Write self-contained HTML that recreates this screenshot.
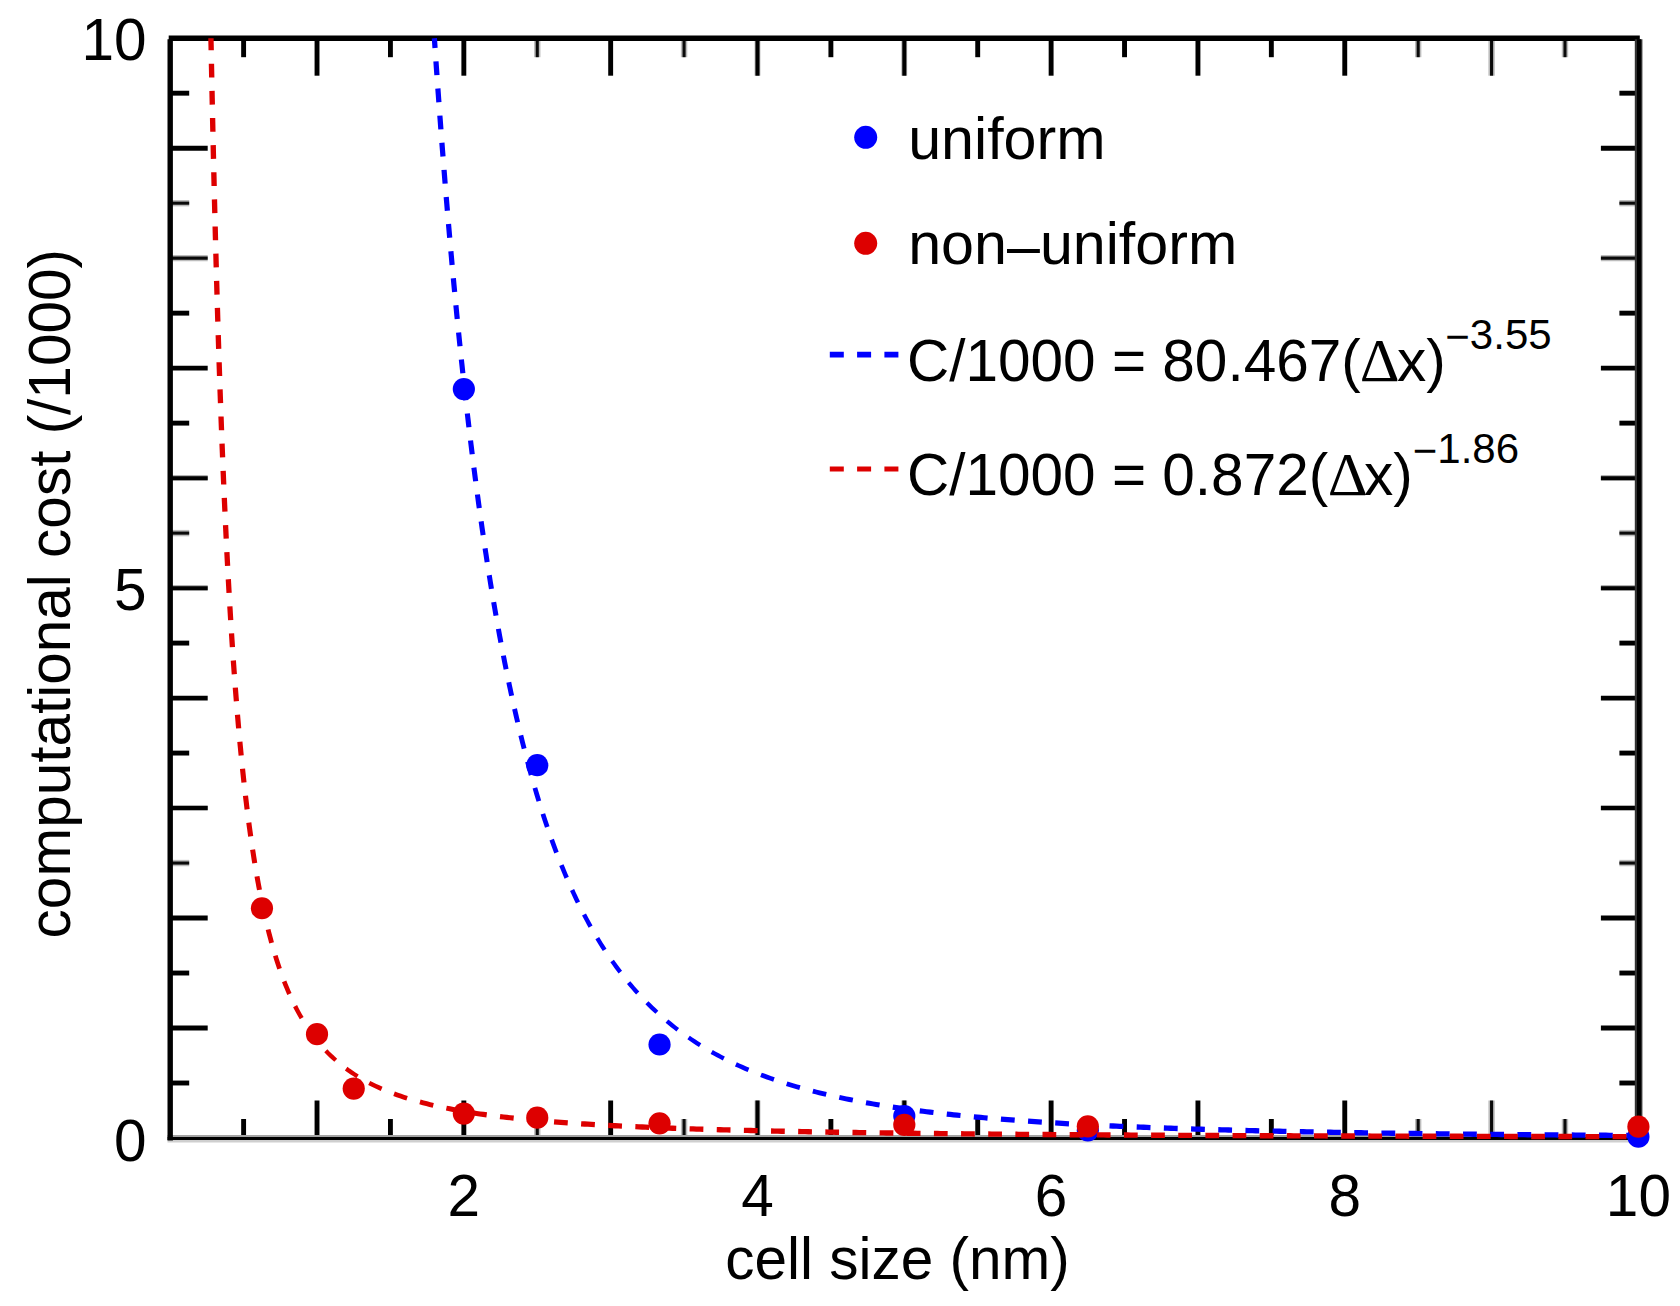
<!DOCTYPE html>
<html lang="en"><head><meta charset="utf-8"><title>computational cost vs cell size</title>
<style>
html,body{margin:0;padding:0;background:#fff;}
body{width:1680px;height:1306px;overflow:hidden;}
svg{display:block;}
text{font-family:"Liberation Sans",sans-serif;fill:#000;}
.sym{font-family:"Liberation Serif","DejaVu Serif",serif;}
</style></head><body>
<svg width="1680" height="1306" viewBox="0 0 1680 1306">
<rect x="0" y="0" width="1680" height="1306" fill="#ffffff"/>
<g stroke-linecap="butt" fill="none">
<line x1="243.61" y1="1138.00" x2="243.61" y2="1119.00" stroke="#000" stroke-width="4.9"/>
<line x1="243.61" y1="38.20" x2="243.61" y2="57.20" stroke="#000" stroke-width="4.9"/>
<line x1="317.02" y1="1138.00" x2="317.02" y2="1100.50" stroke="#000" stroke-width="4.9"/>
<line x1="317.02" y1="38.20" x2="317.02" y2="75.70" stroke="#000" stroke-width="4.9"/>
<line x1="390.43" y1="1138.00" x2="390.43" y2="1119.00" stroke="#000" stroke-width="4.9"/>
<line x1="390.43" y1="38.20" x2="390.43" y2="57.20" stroke="#000" stroke-width="4.9"/>
<line x1="463.84" y1="1138.00" x2="463.84" y2="1100.50" stroke="#000" stroke-width="4.9"/>
<line x1="463.84" y1="38.20" x2="463.84" y2="75.70" stroke="#000" stroke-width="4.9"/>
<line x1="537.25" y1="1138.00" x2="537.25" y2="1119.00" stroke="#bdbdbd" stroke-width="6.4"/>
<line x1="537.25" y1="1138.00" x2="537.25" y2="1119.00" stroke="#0a0a0a" stroke-width="3.1"/>
<line x1="537.25" y1="38.20" x2="537.25" y2="57.20" stroke="#bdbdbd" stroke-width="6.4"/>
<line x1="537.25" y1="38.20" x2="537.25" y2="57.20" stroke="#0a0a0a" stroke-width="3.1"/>
<line x1="610.66" y1="1138.00" x2="610.66" y2="1100.50" stroke="#000" stroke-width="4.9"/>
<line x1="610.66" y1="38.20" x2="610.66" y2="75.70" stroke="#000" stroke-width="4.9"/>
<line x1="684.07" y1="1138.00" x2="684.07" y2="1119.00" stroke="#bdbdbd" stroke-width="6.4"/>
<line x1="684.07" y1="1138.00" x2="684.07" y2="1119.00" stroke="#0a0a0a" stroke-width="3.1"/>
<line x1="684.07" y1="38.20" x2="684.07" y2="57.20" stroke="#bdbdbd" stroke-width="6.4"/>
<line x1="684.07" y1="38.20" x2="684.07" y2="57.20" stroke="#0a0a0a" stroke-width="3.1"/>
<line x1="757.48" y1="1138.00" x2="757.48" y2="1100.50" stroke="#9a9a9a" stroke-width="5.6"/>
<line x1="757.48" y1="1138.00" x2="757.48" y2="1100.50" stroke="#000" stroke-width="3.9"/>
<line x1="757.48" y1="38.20" x2="757.48" y2="75.70" stroke="#9a9a9a" stroke-width="5.6"/>
<line x1="757.48" y1="38.20" x2="757.48" y2="75.70" stroke="#000" stroke-width="3.9"/>
<line x1="830.89" y1="1138.00" x2="830.89" y2="1119.00" stroke="#000" stroke-width="4.9"/>
<line x1="830.89" y1="38.20" x2="830.89" y2="57.20" stroke="#000" stroke-width="4.9"/>
<line x1="904.30" y1="1138.00" x2="904.30" y2="1100.50" stroke="#9a9a9a" stroke-width="5.6"/>
<line x1="904.30" y1="1138.00" x2="904.30" y2="1100.50" stroke="#000" stroke-width="3.9"/>
<line x1="904.30" y1="38.20" x2="904.30" y2="75.70" stroke="#9a9a9a" stroke-width="5.6"/>
<line x1="904.30" y1="38.20" x2="904.30" y2="75.70" stroke="#000" stroke-width="3.9"/>
<line x1="977.71" y1="1138.00" x2="977.71" y2="1119.00" stroke="#000" stroke-width="4.9"/>
<line x1="977.71" y1="38.20" x2="977.71" y2="57.20" stroke="#000" stroke-width="4.9"/>
<line x1="1051.12" y1="1138.00" x2="1051.12" y2="1100.50" stroke="#000" stroke-width="4.9"/>
<line x1="1051.12" y1="38.20" x2="1051.12" y2="75.70" stroke="#000" stroke-width="4.9"/>
<line x1="1124.53" y1="1138.00" x2="1124.53" y2="1119.00" stroke="#000" stroke-width="4.9"/>
<line x1="1124.53" y1="38.20" x2="1124.53" y2="57.20" stroke="#000" stroke-width="4.9"/>
<line x1="1197.94" y1="1138.00" x2="1197.94" y2="1100.50" stroke="#000" stroke-width="4.9"/>
<line x1="1197.94" y1="38.20" x2="1197.94" y2="75.70" stroke="#000" stroke-width="4.9"/>
<line x1="1271.35" y1="1138.00" x2="1271.35" y2="1119.00" stroke="#000" stroke-width="4.9"/>
<line x1="1271.35" y1="38.20" x2="1271.35" y2="57.20" stroke="#000" stroke-width="4.9"/>
<line x1="1344.76" y1="1138.00" x2="1344.76" y2="1100.50" stroke="#000" stroke-width="4.9"/>
<line x1="1344.76" y1="38.20" x2="1344.76" y2="75.70" stroke="#000" stroke-width="4.9"/>
<line x1="1418.17" y1="1138.00" x2="1418.17" y2="1119.00" stroke="#bdbdbd" stroke-width="6.4"/>
<line x1="1418.17" y1="1138.00" x2="1418.17" y2="1119.00" stroke="#0a0a0a" stroke-width="3.1"/>
<line x1="1418.17" y1="38.20" x2="1418.17" y2="57.20" stroke="#bdbdbd" stroke-width="6.4"/>
<line x1="1418.17" y1="38.20" x2="1418.17" y2="57.20" stroke="#0a0a0a" stroke-width="3.1"/>
<line x1="1491.58" y1="1138.00" x2="1491.58" y2="1100.50" stroke="#bdbdbd" stroke-width="6.4"/>
<line x1="1491.58" y1="1138.00" x2="1491.58" y2="1100.50" stroke="#0a0a0a" stroke-width="3.1"/>
<line x1="1491.58" y1="38.20" x2="1491.58" y2="75.70" stroke="#bdbdbd" stroke-width="6.4"/>
<line x1="1491.58" y1="38.20" x2="1491.58" y2="75.70" stroke="#0a0a0a" stroke-width="3.1"/>
<line x1="1564.99" y1="1138.00" x2="1564.99" y2="1119.00" stroke="#bdbdbd" stroke-width="6.4"/>
<line x1="1564.99" y1="1138.00" x2="1564.99" y2="1119.00" stroke="#0a0a0a" stroke-width="3.1"/>
<line x1="1564.99" y1="38.20" x2="1564.99" y2="57.20" stroke="#bdbdbd" stroke-width="6.4"/>
<line x1="1564.99" y1="38.20" x2="1564.99" y2="57.20" stroke="#0a0a0a" stroke-width="3.1"/>
<line x1="170.20" y1="1083.01" x2="189.20" y2="1083.01" stroke="#000" stroke-width="4.9"/>
<line x1="1638.40" y1="1083.01" x2="1619.40" y2="1083.01" stroke="#000" stroke-width="4.9"/>
<line x1="170.20" y1="1028.02" x2="207.70" y2="1028.02" stroke="#000" stroke-width="4.9"/>
<line x1="1638.40" y1="1028.02" x2="1600.90" y2="1028.02" stroke="#000" stroke-width="4.9"/>
<line x1="170.20" y1="973.03" x2="189.20" y2="973.03" stroke="#000" stroke-width="4.9"/>
<line x1="1638.40" y1="973.03" x2="1619.40" y2="973.03" stroke="#000" stroke-width="4.9"/>
<line x1="170.20" y1="918.04" x2="207.70" y2="918.04" stroke="#000" stroke-width="4.9"/>
<line x1="1638.40" y1="918.04" x2="1600.90" y2="918.04" stroke="#000" stroke-width="4.9"/>
<line x1="170.20" y1="863.05" x2="189.20" y2="863.05" stroke="#bdbdbd" stroke-width="6.4"/>
<line x1="170.20" y1="863.05" x2="189.20" y2="863.05" stroke="#0a0a0a" stroke-width="3.1"/>
<line x1="1638.40" y1="863.05" x2="1619.40" y2="863.05" stroke="#bdbdbd" stroke-width="6.4"/>
<line x1="1638.40" y1="863.05" x2="1619.40" y2="863.05" stroke="#0a0a0a" stroke-width="3.1"/>
<line x1="170.20" y1="808.06" x2="207.70" y2="808.06" stroke="#9a9a9a" stroke-width="5.6"/>
<line x1="170.20" y1="808.06" x2="207.70" y2="808.06" stroke="#000" stroke-width="3.9"/>
<line x1="1638.40" y1="808.06" x2="1600.90" y2="808.06" stroke="#9a9a9a" stroke-width="5.6"/>
<line x1="1638.40" y1="808.06" x2="1600.90" y2="808.06" stroke="#000" stroke-width="3.9"/>
<line x1="170.20" y1="753.07" x2="189.20" y2="753.07" stroke="#000" stroke-width="4.9"/>
<line x1="1638.40" y1="753.07" x2="1619.40" y2="753.07" stroke="#000" stroke-width="4.9"/>
<line x1="170.20" y1="698.08" x2="207.70" y2="698.08" stroke="#000" stroke-width="4.9"/>
<line x1="1638.40" y1="698.08" x2="1600.90" y2="698.08" stroke="#000" stroke-width="4.9"/>
<line x1="170.20" y1="643.09" x2="189.20" y2="643.09" stroke="#000" stroke-width="4.9"/>
<line x1="1638.40" y1="643.09" x2="1619.40" y2="643.09" stroke="#000" stroke-width="4.9"/>
<line x1="170.20" y1="588.10" x2="207.70" y2="588.10" stroke="#9a9a9a" stroke-width="5.6"/>
<line x1="170.20" y1="588.10" x2="207.70" y2="588.10" stroke="#000" stroke-width="3.9"/>
<line x1="1638.40" y1="588.10" x2="1600.90" y2="588.10" stroke="#9a9a9a" stroke-width="5.6"/>
<line x1="1638.40" y1="588.10" x2="1600.90" y2="588.10" stroke="#000" stroke-width="3.9"/>
<line x1="170.20" y1="533.11" x2="189.20" y2="533.11" stroke="#bdbdbd" stroke-width="6.4"/>
<line x1="170.20" y1="533.11" x2="189.20" y2="533.11" stroke="#0a0a0a" stroke-width="3.1"/>
<line x1="1638.40" y1="533.11" x2="1619.40" y2="533.11" stroke="#bdbdbd" stroke-width="6.4"/>
<line x1="1638.40" y1="533.11" x2="1619.40" y2="533.11" stroke="#0a0a0a" stroke-width="3.1"/>
<line x1="170.20" y1="478.12" x2="207.70" y2="478.12" stroke="#9a9a9a" stroke-width="5.6"/>
<line x1="170.20" y1="478.12" x2="207.70" y2="478.12" stroke="#000" stroke-width="3.9"/>
<line x1="1638.40" y1="478.12" x2="1600.90" y2="478.12" stroke="#9a9a9a" stroke-width="5.6"/>
<line x1="1638.40" y1="478.12" x2="1600.90" y2="478.12" stroke="#000" stroke-width="3.9"/>
<line x1="170.20" y1="423.13" x2="189.20" y2="423.13" stroke="#000" stroke-width="4.9"/>
<line x1="1638.40" y1="423.13" x2="1619.40" y2="423.13" stroke="#000" stroke-width="4.9"/>
<line x1="170.20" y1="368.14" x2="207.70" y2="368.14" stroke="#000" stroke-width="4.9"/>
<line x1="1638.40" y1="368.14" x2="1600.90" y2="368.14" stroke="#000" stroke-width="4.9"/>
<line x1="170.20" y1="313.15" x2="189.20" y2="313.15" stroke="#000" stroke-width="4.9"/>
<line x1="1638.40" y1="313.15" x2="1619.40" y2="313.15" stroke="#000" stroke-width="4.9"/>
<line x1="170.20" y1="258.16" x2="207.70" y2="258.16" stroke="#bdbdbd" stroke-width="6.4"/>
<line x1="170.20" y1="258.16" x2="207.70" y2="258.16" stroke="#0a0a0a" stroke-width="3.1"/>
<line x1="1638.40" y1="258.16" x2="1600.90" y2="258.16" stroke="#bdbdbd" stroke-width="6.4"/>
<line x1="1638.40" y1="258.16" x2="1600.90" y2="258.16" stroke="#0a0a0a" stroke-width="3.1"/>
<line x1="170.20" y1="203.17" x2="189.20" y2="203.17" stroke="#bdbdbd" stroke-width="6.4"/>
<line x1="170.20" y1="203.17" x2="189.20" y2="203.17" stroke="#0a0a0a" stroke-width="3.1"/>
<line x1="1638.40" y1="203.17" x2="1619.40" y2="203.17" stroke="#bdbdbd" stroke-width="6.4"/>
<line x1="1638.40" y1="203.17" x2="1619.40" y2="203.17" stroke="#0a0a0a" stroke-width="3.1"/>
<line x1="170.20" y1="148.18" x2="207.70" y2="148.18" stroke="#000" stroke-width="4.9"/>
<line x1="1638.40" y1="148.18" x2="1600.90" y2="148.18" stroke="#000" stroke-width="4.9"/>
<line x1="170.20" y1="93.19" x2="189.20" y2="93.19" stroke="#000" stroke-width="4.9"/>
<line x1="1638.40" y1="93.19" x2="1619.40" y2="93.19" stroke="#000" stroke-width="4.9"/>
</g>
<g stroke="#000" fill="none" stroke-linecap="butt">
<line x1="167.50" y1="1136.30" x2="1641.40" y2="1136.30" stroke="#a4a4a4" stroke-width="2.4"/>
<line x1="167.50" y1="1141.10" x2="1641.40" y2="1141.10" stroke="#cfcfcf" stroke-width="2.8"/>
<line x1="167.50" y1="1138.50" x2="1641.40" y2="1138.50" stroke-width="2.8"/>
<line x1="170.20" y1="39.20" x2="170.20" y2="1140.40" stroke-width="5.4"/>
<line x1="168.70" y1="38.20" x2="1639.80" y2="38.20" stroke-width="5.6"/>
<line x1="1638.60" y1="39.20" x2="1638.60" y2="1140.40" stroke="#333" stroke-width="7.6"/>
<line x1="1639.00" y1="39.20" x2="1639.00" y2="1140.40" stroke-width="4"/>
</g>
<g fill="none" stroke="#0000ff" stroke-linecap="butt" stroke-linejoin="round">
<path d="M1638.40,1135.51 L1635.35,1135.49 L1632.30,1135.47 L1629.25,1135.45 L1626.20,1135.43" stroke-width="5.39"/>
<path d="M1612.80,1135.35 L1609.35,1135.32 L1605.90,1135.30 L1602.45,1135.28 L1599.00,1135.25" stroke-width="5.39"/>
<path d="M1585.60,1135.16 L1582.15,1135.13 L1578.70,1135.11 L1575.25,1135.08 L1571.80,1135.06" stroke-width="5.38"/>
<path d="M1558.40,1134.96 L1554.95,1134.93 L1551.50,1134.90 L1548.05,1134.88 L1544.60,1134.85" stroke-width="5.38"/>
<path d="M1531.20,1134.74 L1527.75,1134.71 L1524.30,1134.68 L1520.85,1134.65 L1517.40,1134.62" stroke-width="5.38"/>
<path d="M1504.00,1134.49 L1500.55,1134.46 L1497.10,1134.43 L1493.65,1134.39 L1490.20,1134.36" stroke-width="5.38"/>
<path d="M1476.81,1134.23 L1473.36,1134.19 L1469.91,1134.16 L1466.46,1134.12 L1463.01,1134.08" stroke-width="5.38"/>
<path d="M1449.61,1133.93 L1446.16,1133.90 L1442.71,1133.86 L1439.26,1133.82 L1435.81,1133.77" stroke-width="5.37"/>
<path d="M1422.41,1133.61 L1418.96,1133.57 L1415.51,1133.53 L1412.06,1133.48 L1408.61,1133.44" stroke-width="5.37"/>
<path d="M1395.21,1133.26 L1391.76,1133.21 L1388.31,1133.16 L1384.86,1133.11 L1381.41,1133.06" stroke-width="5.37"/>
<path d="M1368.01,1132.86 L1364.56,1132.81 L1361.11,1132.76 L1357.67,1132.70 L1354.22,1132.65" stroke-width="5.37"/>
<path d="M1340.82,1132.43 L1337.37,1132.37 L1333.92,1132.31 L1330.47,1132.25 L1327.02,1132.19" stroke-width="5.36"/>
<path d="M1313.62,1131.94 L1310.17,1131.88 L1306.72,1131.81 L1303.27,1131.74 L1299.82,1131.67" stroke-width="5.36"/>
<path d="M1286.43,1131.40 L1282.98,1131.33 L1279.53,1131.25 L1276.08,1131.18 L1272.63,1131.10" stroke-width="5.35"/>
<path d="M1259.23,1130.80 L1255.78,1130.72 L1252.34,1130.63 L1248.89,1130.55 L1245.44,1130.46" stroke-width="5.35"/>
<path d="M1232.04,1130.12 L1228.59,1130.03 L1225.14,1129.94 L1221.70,1129.84 L1218.25,1129.75" stroke-width="5.34"/>
<path d="M1204.85,1129.36 L1201.40,1129.26 L1197.96,1129.15 L1194.51,1129.05 L1191.06,1128.94" stroke-width="5.33"/>
<path d="M1177.67,1128.50 L1174.22,1128.39 L1170.77,1128.27 L1167.32,1128.15 L1163.87,1128.03" stroke-width="5.32"/>
<path d="M1150.48,1127.54 L1147.04,1127.40 L1143.59,1127.27 L1140.14,1127.13 L1136.69,1127.00" stroke-width="5.31"/>
<path d="M1123.31,1126.44 L1119.86,1126.29 L1116.41,1126.14 L1112.97,1125.98 L1109.52,1125.82" stroke-width="5.30"/>
<path d="M1096.13,1125.19 L1092.69,1125.02 L1089.24,1124.84 L1085.80,1124.67 L1082.35,1124.49" stroke-width="5.29"/>
<path d="M1068.97,1123.76 L1065.53,1123.56 L1062.08,1123.36 L1058.64,1123.16 L1055.20,1122.96" stroke-width="5.27"/>
<path d="M1041.82,1122.12 L1038.38,1121.90 L1034.94,1121.67 L1031.49,1121.43 L1028.05,1121.20" stroke-width="5.25"/>
<path d="M1014.69,1120.23 L1011.25,1119.97 L1007.81,1119.71 L1004.37,1119.44 L1000.93,1119.17" stroke-width="5.23"/>
<path d="M987.58,1118.05 L984.14,1117.75 L980.70,1117.44 L977.27,1117.13 L973.83,1116.81" stroke-width="5.20"/>
<path d="M960.49,1115.52 L957.06,1115.17 L953.63,1114.81 L950.20,1114.44 L946.77,1114.07" stroke-width="5.17"/>
<path d="M933.46,1112.56 L930.03,1112.15 L926.61,1111.73 L923.18,1111.30 L919.76,1110.87" stroke-width="5.13"/>
<path d="M906.48,1109.09 L903.06,1108.61 L899.65,1108.12 L896.23,1107.62 L892.82,1107.11" stroke-width="5.09"/>
<path d="M879.59,1105.01 L876.18,1104.44 L872.78,1103.86 L869.38,1103.27 L865.99,1102.66" stroke-width="5.03"/>
<path d="M852.82,1100.18 L849.44,1099.51 L846.05,1098.82 L842.68,1098.12 L839.30,1097.40" stroke-width="4.97"/>
<path d="M826.23,1094.45 L822.87,1093.65 L819.52,1092.84 L816.18,1092.00 L812.83,1091.15" stroke-width="4.89"/>
<path d="M799.90,1087.64 L796.59,1086.69 L793.28,1085.71 L789.97,1084.72 L786.68,1083.70" stroke-width="4.80"/>
<path d="M773.94,1079.52 L770.69,1078.39 L767.44,1077.23 L764.20,1076.04 L760.97,1074.83" stroke-width="4.70"/>
<path d="M748.52,1069.87 L745.34,1068.53 L742.18,1067.15 L739.03,1065.75 L735.89,1064.32" stroke-width="4.59"/>
<path d="M723.83,1058.46 L720.77,1056.88 L717.72,1055.26 L714.69,1053.62 L711.68,1051.94" stroke-width="4.48"/>
<path d="M700.15,1045.11 L697.23,1043.27 L694.33,1041.39 L691.46,1039.49 L688.60,1037.55" stroke-width="4.39"/>
<path d="M677.74,1029.71 L675.00,1027.61 L672.29,1025.48 L669.60,1023.31 L666.94,1021.12" stroke-width="4.33"/>
<path d="M656.86,1012.29 L654.33,1009.94 L651.83,1007.57 L649.36,1005.16 L646.91,1002.73" stroke-width="4.30"/>
<path d="M637.69,993.01 L635.38,990.44 L633.11,987.85 L630.86,985.23 L628.64,982.59" stroke-width="4.31"/>
<path d="M620.29,972.11 L618.21,969.36 L616.15,966.59 L614.13,963.80 L612.13,960.98" stroke-width="4.35"/>
<path d="M604.62,949.88 L602.76,946.98 L600.91,944.07 L599.10,941.13 L597.30,938.19" stroke-width="4.41"/>
<path d="M590.58,926.60 L588.90,923.58 L587.25,920.55 L585.62,917.51 L584.02,914.46" stroke-width="4.48"/>
<path d="M577.98,902.49 L576.48,899.39 L575.00,896.27 L573.54,893.15 L572.09,890.01" stroke-width="4.55"/>
<path d="M566.67,877.76 L565.32,874.59 L563.98,871.40 L562.67,868.22 L561.37,865.02" stroke-width="4.62"/>
<path d="M556.48,852.55 L555.25,849.32 L554.05,846.09 L552.86,842.85 L551.68,839.61" stroke-width="4.68"/>
<path d="M547.25,826.96 L546.14,823.69 L545.04,820.42 L543.96,817.15 L542.89,813.87" stroke-width="4.74"/>
<path d="M538.86,801.09 L537.85,797.79 L536.85,794.49 L535.86,791.18 L534.88,787.87" stroke-width="4.79"/>
<path d="M531.19,774.99 L530.26,771.67 L529.35,768.34 L528.44,765.01 L527.55,761.68" stroke-width="4.84"/>
<path d="M524.15,748.72 L523.30,745.37 L522.46,742.03 L521.62,738.68 L520.80,735.33" stroke-width="4.88"/>
<path d="M517.67,722.30 L516.88,718.94 L516.10,715.58 L515.33,712.22 L514.56,708.86" stroke-width="4.92"/>
<path d="M511.66,695.77 L510.93,692.40 L510.21,689.03 L509.49,685.65 L508.78,682.28" stroke-width="4.95"/>
<path d="M506.09,669.15 L505.41,665.77 L504.73,662.39 L504.07,659.00 L503.40,655.62" stroke-width="4.98"/>
<path d="M500.89,642.45 L500.25,639.06 L499.62,635.67 L499.00,632.28 L498.38,628.88" stroke-width="5.01"/>
<path d="M496.02,615.69 L495.43,612.29 L494.84,608.89 L494.25,605.49 L493.67,602.09" stroke-width="5.03"/>
<path d="M491.46,588.88 L490.90,585.47 L490.35,582.07 L489.80,578.66 L489.25,575.26" stroke-width="5.05"/>
<path d="M487.17,562.02 L486.64,558.61 L486.12,555.20 L485.60,551.79 L485.09,548.38" stroke-width="5.07"/>
<path d="M483.12,535.12 L482.62,531.71 L482.13,528.29 L481.64,524.88 L481.15,521.46" stroke-width="5.09"/>
<path d="M479.29,508.19 L478.82,504.78 L478.35,501.36 L477.89,497.94 L477.43,494.52" stroke-width="5.11"/>
<path d="M475.66,481.24 L475.22,477.81 L474.77,474.39 L474.33,470.97 L473.89,467.55" stroke-width="5.12"/>
<path d="M472.22,454.25 L471.80,450.83 L471.37,447.41 L470.95,443.98 L470.54,440.56" stroke-width="5.13"/>
<path d="M468.94,427.25 L468.54,423.83 L468.14,420.40 L467.74,416.97 L467.34,413.55" stroke-width="5.15"/>
<path d="M465.82,400.23 L465.43,396.80 L465.05,393.38 L464.67,389.95 L464.29,386.52" stroke-width="5.16"/>
<path d="M462.84,373.20 L462.47,369.77 L462.10,366.34 L461.74,362.91 L461.37,359.47" stroke-width="5.17"/>
<path d="M459.99,346.15 L459.63,342.72 L459.28,339.28 L458.93,335.85 L458.59,332.42" stroke-width="5.18"/>
<path d="M457.26,319.08 L456.92,315.65 L456.58,312.22 L456.25,308.78 L455.91,305.35" stroke-width="5.19"/>
<path d="M454.64,292.01 L454.31,288.58 L453.99,285.14 L453.67,281.71 L453.35,278.27" stroke-width="5.20"/>
<path d="M452.12,264.93 L451.81,261.49 L451.50,258.06 L451.19,254.62 L450.89,251.18" stroke-width="5.20"/>
<path d="M449.71,237.83 L449.41,234.40 L449.11,230.96 L448.81,227.52 L448.52,224.09" stroke-width="5.21"/>
<path d="M447.38,210.73 L447.09,207.30 L446.81,203.86 L446.52,200.42 L446.23,196.98" stroke-width="5.22"/>
<path d="M445.14,183.63 L444.86,180.19 L444.59,176.75 L444.31,173.31 L444.04,169.87" stroke-width="5.22"/>
<path d="M442.98,156.51 L442.71,153.07 L442.44,149.63 L442.18,146.19 L441.91,142.75" stroke-width="5.23"/>
<path d="M440.89,129.39 L440.63,125.95 L440.38,122.51 L440.12,119.07 L439.86,115.63" stroke-width="5.24"/>
<path d="M438.88,102.27 L438.63,98.83 L438.38,95.39 L438.13,91.94 L437.88,88.50" stroke-width="5.24"/>
<path d="M436.93,75.14 L436.69,71.70 L436.44,68.25 L436.20,64.81 L435.96,61.37" stroke-width="5.25"/>
<path d="M435.04,48.00 L434.87,45.55 L434.71,43.10 L434.54,40.65 L434.37,38.20" stroke-width="5.25"/>
</g>
<g fill="#0000ff">
<circle cx="463.84" cy="389.04" r="11.10"/>
<circle cx="537.25" cy="765.17" r="11.10"/>
<circle cx="659.55" cy="1044.52" r="11.10"/>
<circle cx="904.30" cy="1116.00" r="11.10"/>
<circle cx="1087.83" cy="1130.30" r="11.10"/>
<circle cx="1638.40" cy="1136.68" r="11.10"/>
</g>
<g fill="none" stroke="#dd0000" stroke-linecap="butt" stroke-linejoin="round">
<path d="M1626.40,1136.65 L1622.96,1136.65 L1619.53,1136.64 L1616.09,1136.64 L1612.65,1136.63" stroke-width="5.40"/>
<path d="M1599.25,1136.61 L1595.81,1136.60 L1592.38,1136.59 L1588.94,1136.59 L1585.50,1136.58" stroke-width="5.40"/>
<path d="M1572.10,1136.56 L1568.66,1136.55 L1565.23,1136.54 L1561.79,1136.54 L1558.35,1136.53" stroke-width="5.40"/>
<path d="M1544.95,1136.50 L1541.51,1136.49 L1538.08,1136.49 L1534.64,1136.48 L1531.20,1136.47" stroke-width="5.40"/>
<path d="M1517.80,1136.44 L1514.36,1136.44 L1510.93,1136.43 L1507.49,1136.42 L1504.05,1136.41" stroke-width="5.40"/>
<path d="M1490.65,1136.38 L1487.21,1136.38 L1483.78,1136.37 L1480.34,1136.36 L1476.90,1136.35" stroke-width="5.39"/>
<path d="M1463.50,1136.32 L1460.06,1136.31 L1456.63,1136.30 L1453.19,1136.30 L1449.75,1136.29" stroke-width="5.39"/>
<path d="M1436.35,1136.25 L1432.91,1136.24 L1429.48,1136.24 L1426.04,1136.23 L1422.60,1136.22" stroke-width="5.39"/>
<path d="M1409.20,1136.18 L1405.76,1136.17 L1402.33,1136.16 L1398.89,1136.15 L1395.45,1136.14" stroke-width="5.39"/>
<path d="M1382.05,1136.10 L1378.61,1136.09 L1375.18,1136.08 L1371.74,1136.07 L1368.30,1136.06" stroke-width="5.39"/>
<path d="M1354.90,1136.02 L1351.46,1136.01 L1348.03,1136.00 L1344.59,1135.99 L1341.15,1135.98" stroke-width="5.39"/>
<path d="M1327.75,1135.94 L1324.31,1135.92 L1320.88,1135.91 L1317.44,1135.90 L1314.00,1135.89" stroke-width="5.39"/>
<path d="M1300.60,1135.84 L1297.16,1135.83 L1293.73,1135.82 L1290.29,1135.81 L1286.85,1135.79" stroke-width="5.39"/>
<path d="M1273.45,1135.74 L1270.01,1135.73 L1266.58,1135.72 L1263.14,1135.70 L1259.70,1135.69" stroke-width="5.39"/>
<path d="M1246.30,1135.64 L1242.86,1135.62 L1239.43,1135.61 L1235.99,1135.59 L1232.55,1135.58" stroke-width="5.39"/>
<path d="M1219.15,1135.52 L1215.71,1135.51 L1212.28,1135.49 L1208.84,1135.47 L1205.40,1135.46" stroke-width="5.39"/>
<path d="M1192.00,1135.40 L1188.56,1135.38 L1185.13,1135.36 L1181.69,1135.35 L1178.25,1135.33" stroke-width="5.39"/>
<path d="M1164.85,1135.26 L1161.41,1135.24 L1157.98,1135.23 L1154.54,1135.21 L1151.10,1135.19" stroke-width="5.39"/>
<path d="M1137.70,1135.12 L1134.27,1135.10 L1130.83,1135.08 L1127.39,1135.06 L1123.95,1135.04" stroke-width="5.39"/>
<path d="M1110.55,1134.96 L1107.12,1134.94 L1103.68,1134.92 L1100.24,1134.90 L1096.80,1134.88" stroke-width="5.39"/>
<path d="M1083.40,1134.79 L1079.97,1134.77 L1076.53,1134.74 L1073.09,1134.72 L1069.65,1134.70" stroke-width="5.39"/>
<path d="M1056.25,1134.60 L1052.82,1134.58 L1049.38,1134.56 L1045.94,1134.53 L1042.50,1134.50" stroke-width="5.38"/>
<path d="M1029.11,1134.40 L1025.67,1134.38 L1022.23,1134.35 L1018.79,1134.32 L1015.36,1134.29" stroke-width="5.38"/>
<path d="M1001.96,1134.18 L998.52,1134.15 L995.08,1134.12 L991.64,1134.09 L988.21,1134.06" stroke-width="5.38"/>
<path d="M974.81,1133.94 L971.37,1133.90 L967.93,1133.87 L964.50,1133.84 L961.06,1133.80" stroke-width="5.38"/>
<path d="M947.66,1133.67 L944.22,1133.63 L940.78,1133.60 L937.35,1133.56 L933.91,1133.52" stroke-width="5.38"/>
<path d="M920.51,1133.37 L917.07,1133.33 L913.64,1133.29 L910.20,1133.25 L906.76,1133.21" stroke-width="5.37"/>
<path d="M893.36,1133.04 L889.92,1133.00 L886.49,1132.95 L883.05,1132.91 L879.61,1132.86" stroke-width="5.37"/>
<path d="M866.21,1132.68 L862.78,1132.63 L859.34,1132.58 L855.90,1132.53 L852.47,1132.48" stroke-width="5.37"/>
<path d="M839.07,1132.27 L835.63,1132.21 L832.19,1132.16 L828.76,1132.10 L825.32,1132.04" stroke-width="5.36"/>
<path d="M811.92,1131.81 L808.48,1131.74 L805.05,1131.68 L801.61,1131.62 L798.17,1131.55" stroke-width="5.36"/>
<path d="M784.78,1131.29 L781.34,1131.22 L777.90,1131.15 L774.47,1131.07 L771.03,1131.00" stroke-width="5.35"/>
<path d="M757.63,1130.70 L754.20,1130.62 L750.76,1130.54 L747.32,1130.45 L743.89,1130.37" stroke-width="5.35"/>
<path d="M730.49,1130.02 L727.05,1129.93 L723.62,1129.84 L720.18,1129.74 L716.75,1129.65" stroke-width="5.34"/>
<path d="M703.35,1129.25 L699.92,1129.15 L696.48,1129.04 L693.04,1128.93 L689.61,1128.82" stroke-width="5.33"/>
<path d="M676.22,1128.36 L672.78,1128.23 L669.35,1128.11 L665.91,1127.98 L662.48,1127.85" stroke-width="5.32"/>
<path d="M649.09,1127.31 L645.65,1127.17 L642.22,1127.02 L638.78,1126.87 L635.35,1126.72" stroke-width="5.30"/>
<path d="M621.96,1126.09 L618.53,1125.92 L615.10,1125.74 L611.67,1125.56 L608.23,1125.38" stroke-width="5.29"/>
<path d="M594.85,1124.63 L591.42,1124.42 L587.99,1124.22 L584.56,1124.00 L581.13,1123.78" stroke-width="5.27"/>
<path d="M567.76,1122.88 L564.33,1122.63 L560.90,1122.38 L557.48,1122.12 L554.05,1121.85" stroke-width="5.24"/>
<path d="M540.69,1120.75 L537.27,1120.45 L533.85,1120.14 L530.42,1119.82 L527.00,1119.50" stroke-width="5.20"/>
<path d="M513.67,1118.13 L510.25,1117.76 L506.84,1117.37 L503.42,1116.98 L500.01,1116.57" stroke-width="5.15"/>
<path d="M486.72,1114.86 L483.32,1114.39 L479.91,1113.90 L476.51,1113.40 L473.11,1112.88" stroke-width="5.09"/>
<path d="M459.89,1110.70 L456.51,1110.09 L453.13,1109.47 L449.75,1108.82 L446.38,1108.15" stroke-width="5.00"/>
<path d="M433.29,1105.31 L429.94,1104.52 L426.60,1103.70 L423.27,1102.86 L419.95,1101.98" stroke-width="4.88"/>
<path d="M407.08,1098.23 L403.81,1097.18 L400.55,1096.10 L397.30,1094.97 L394.07,1093.80" stroke-width="4.73"/>
<path d="M381.63,1088.81 L378.49,1087.42 L375.37,1085.97 L372.28,1084.47 L369.21,1082.92" stroke-width="4.55"/>
<path d="M357.55,1076.33 L354.64,1074.49 L351.77,1072.60 L348.94,1070.65 L346.16,1068.64" stroke-width="4.38"/>
<path d="M335.73,1060.23 L333.17,1057.93 L330.67,1055.57 L328.22,1053.16 L325.83,1050.69" stroke-width="4.30"/>
<path d="M317.01,1040.61 L314.88,1037.91 L312.81,1035.16 L310.80,1032.38 L308.83,1029.56" stroke-width="4.35"/>
<path d="M301.68,1018.23 L299.97,1015.25 L298.31,1012.24 L296.69,1009.20 L295.12,1006.15" stroke-width="4.48"/>
<path d="M289.41,994.03 L288.04,990.87 L286.71,987.70 L285.42,984.52 L284.16,981.32" stroke-width="4.62"/>
<path d="M279.57,968.73 L278.47,965.47 L277.40,962.21 L276.35,958.93 L275.33,955.65" stroke-width="4.75"/>
<path d="M271.59,942.78 L270.69,939.47 L269.81,936.15 L268.94,932.82 L268.10,929.48" stroke-width="4.86"/>
<path d="M265.00,916.45 L264.25,913.09 L263.51,909.74 L262.79,906.38 L262.08,903.01" stroke-width="4.94"/>
<path d="M259.47,889.87 L258.83,886.49 L258.21,883.11 L257.59,879.73 L256.99,876.34" stroke-width="5.01"/>
<path d="M254.75,863.13 L254.21,859.74 L253.67,856.34 L253.14,852.95 L252.62,849.55" stroke-width="5.06"/>
<path d="M250.68,836.29 L250.21,832.89 L249.74,829.48 L249.27,826.07 L248.82,822.67" stroke-width="5.11"/>
<path d="M247.12,809.38 L246.70,805.96 L246.29,802.55 L245.88,799.14 L245.48,795.72" stroke-width="5.14"/>
<path d="M243.98,782.41 L243.61,778.99 L243.24,775.57 L242.88,772.15 L242.52,768.74" stroke-width="5.17"/>
<path d="M241.18,755.40 L240.84,751.98 L240.52,748.56 L240.19,745.14 L239.87,741.72" stroke-width="5.19"/>
<path d="M238.66,728.37 L238.36,724.95 L238.07,721.52 L237.77,718.10 L237.48,714.67" stroke-width="5.21"/>
<path d="M236.39,701.32 L236.12,697.89 L235.85,694.46 L235.58,691.03 L235.32,687.61" stroke-width="5.23"/>
<path d="M234.32,674.24 L234.07,670.82 L233.83,667.39 L233.58,663.96 L233.34,660.53" stroke-width="5.24"/>
<path d="M232.43,647.16 L232.20,643.73 L231.98,640.30 L231.75,636.87 L231.53,633.44" stroke-width="5.26"/>
<path d="M230.69,620.07 L230.48,616.64 L230.27,613.20 L230.07,609.77 L229.86,606.34" stroke-width="5.27"/>
<path d="M229.09,592.96 L228.89,589.53 L228.70,586.10 L228.51,582.67 L228.32,579.24" stroke-width="5.28"/>
<path d="M227.60,565.85 L227.42,562.42 L227.24,558.99 L227.07,555.56 L226.89,552.12" stroke-width="5.29"/>
<path d="M226.22,538.74 L226.05,535.31 L225.89,531.87 L225.72,528.44 L225.56,525.01" stroke-width="5.29"/>
<path d="M224.93,511.62 L224.77,508.19 L224.62,504.75 L224.46,501.32 L224.31,497.88" stroke-width="5.30"/>
<path d="M223.73,484.50 L223.58,481.06 L223.43,477.63 L223.29,474.19 L223.14,470.76" stroke-width="5.31"/>
<path d="M222.59,457.37 L222.46,453.94 L222.32,450.50 L222.18,447.07 L222.05,443.63" stroke-width="5.31"/>
<path d="M221.53,430.24 L221.40,426.81 L221.27,423.37 L221.14,419.94 L221.01,416.50" stroke-width="5.32"/>
<path d="M220.53,403.11 L220.40,399.67 L220.28,396.24 L220.16,392.80 L220.04,389.37" stroke-width="5.32"/>
<path d="M219.58,375.98 L219.46,372.54 L219.35,369.11 L219.23,365.67 L219.12,362.23" stroke-width="5.33"/>
<path d="M218.68,348.84 L218.57,345.41 L218.46,341.97 L218.35,338.53 L218.24,335.10" stroke-width="5.33"/>
<path d="M217.83,321.70 L217.72,318.27 L217.62,314.83 L217.52,311.40 L217.41,307.96" stroke-width="5.33"/>
<path d="M217.02,294.57 L216.92,291.13 L216.82,287.69 L216.72,284.26 L216.62,280.82" stroke-width="5.34"/>
<path d="M216.25,267.43 L216.15,263.99 L216.06,260.56 L215.97,257.12 L215.87,253.68" stroke-width="5.34"/>
<path d="M215.51,240.29 L215.42,236.85 L215.33,233.42 L215.24,229.98 L215.16,226.54" stroke-width="5.34"/>
<path d="M214.81,213.15 L214.73,209.71 L214.64,206.27 L214.56,202.84 L214.47,199.40" stroke-width="5.35"/>
<path d="M214.14,186.01 L214.06,182.57 L213.98,179.13 L213.90,175.70 L213.82,172.26" stroke-width="5.35"/>
<path d="M213.50,158.86 L213.42,155.43 L213.34,151.99 L213.27,148.55 L213.19,145.12" stroke-width="5.35"/>
<path d="M212.89,131.72 L212.81,128.28 L212.74,124.85 L212.66,121.41 L212.59,117.97" stroke-width="5.35"/>
<path d="M212.30,104.58 L212.23,101.14 L212.15,97.70 L212.08,94.27 L212.01,90.83" stroke-width="5.35"/>
<path d="M211.73,77.43 L211.66,74.00 L211.59,70.56 L211.52,67.12 L211.45,63.68" stroke-width="5.36"/>
<path d="M211.19,50.29 L211.13,47.27 L211.07,44.24 L211.01,41.22 L210.95,38.20" stroke-width="5.36"/>
</g>
<g fill="#dd0000">
<circle cx="261.96" cy="908.25" r="11.10"/>
<circle cx="317.02" cy="1034.18" r="11.10"/>
<circle cx="353.72" cy="1088.62" r="11.10"/>
<circle cx="463.84" cy="1113.58" r="11.10"/>
<circle cx="537.25" cy="1117.65" r="11.10"/>
<circle cx="659.55" cy="1123.37" r="11.10"/>
<circle cx="904.30" cy="1124.80" r="11.10"/>
<circle cx="1087.83" cy="1126.34" r="11.10"/>
<circle cx="1638.40" cy="1126.67" r="11.10"/>
</g>
<g font-size="58.50">
<text x="463.84" y="1216.00" text-anchor="middle">2</text>
<text x="757.48" y="1216.00" text-anchor="middle">4</text>
<text x="1051.12" y="1216.00" text-anchor="middle">6</text>
<text x="1344.76" y="1216.00" text-anchor="middle">8</text>
<text x="1638.40" y="1216.00" text-anchor="middle">10</text>
<text x="146.50" y="1160.50" text-anchor="end">0</text>
<text x="146.50" y="609.50" text-anchor="end">5</text>
<text x="146.50" y="59.50" text-anchor="end">10</text>
<text x="897.50" y="1279.00" text-anchor="middle">cell size (nm)</text>
<text transform="translate(70.00,593.70) rotate(-90)" text-anchor="middle">computational cost (/1000)</text>
<circle cx="865.7" cy="137.3" r="11.50" fill="#0000ff"/>
<text x="908.20" y="159.3" font-size="59.2">uniform</text>
<circle cx="865.7" cy="243.3" r="11.50" fill="#dd0000"/>
<text x="908.20" y="264.0" font-size="59.2">non<tspan dy="2">–</tspan><tspan dy="-2">uniform</tspan></text>
<line x1="829.8" y1="354.6" x2="898.4" y2="354.6" stroke="#0000ff" stroke-width="5.6" stroke-dasharray="14 13.3"/>
<text x="907.00" y="381.0">C/1000 = 80.467(<tspan class="sym" font-size="62" dx="-1">Δ</tspan><tspan dx="-2.5">x)</tspan><tspan dy="-30" dx="-0.5" font-size="42.0">−</tspan><tspan dy="-2" font-size="42.0">3.55</tspan></text>
<line x1="829.8" y1="469.0" x2="898.4" y2="469.0" stroke="#dd0000" stroke-width="5.2" stroke-dasharray="14 13.3"/>
<text x="907.00" y="495.2">C/1000 = 0.872(<tspan class="sym" font-size="62" dx="-0.5">Δ</tspan><tspan dx="-3.5">x)</tspan><tspan dy="-30" dx="0" font-size="42.0">−</tspan><tspan dy="-2" font-size="42.0">1.86</tspan></text>
</g>
</svg>
</body></html>
